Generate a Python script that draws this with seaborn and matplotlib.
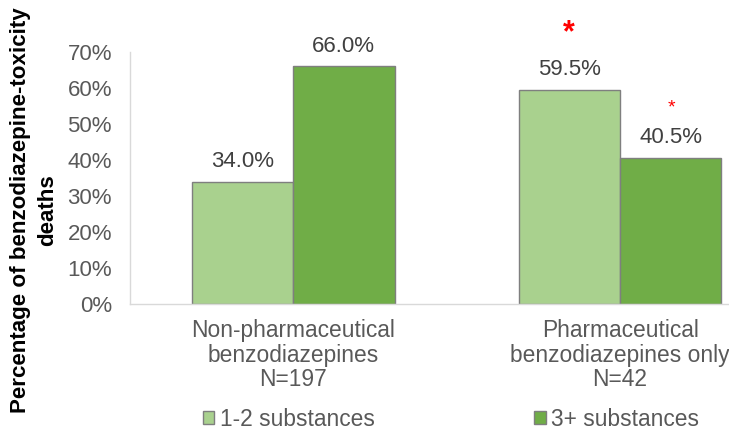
import matplotlib
matplotlib.use("Agg")
import matplotlib.pyplot as plt
import seaborn as sns
import pandas as pd
from matplotlib.ticker import PercentFormatter

groups = ["Non-pharmaceutical\nbenzodiazepines\nN=197", "Pharmaceutical\nbenzodiazepines only\nN=42"]
series = ["1-2 substances", "3+ substances"]
light_vals = [34.0, 59.5]
dark_vals = [66.0, 40.5]
colors = ["#A9D18E", "#70AD47"]

df = pd.DataFrame({
    "group": groups * 2,
    "series": [series[0]] * 2 + [series[1]] * 2,
    "pct": light_vals + dark_vals,
})

sns.set_style("white")
plt.rcParams["font.family"] = ["Liberation Sans", "DejaVu Sans"]

fig = plt.figure(figsize=(7.29, 4.32), dpi=100)
ax = fig.add_axes([130 / 729, 1 - 304 / 432, 599 / 729, 252 / 432])

sns.barplot(data=df, x="group", y="pct", hue="series", palette=colors,
            saturation=1, width=0.62, edgecolor="#7F7F7F", linewidth=1,
            ax=ax, legend=True)

for cont in ax.containers:
    ax.bar_label(cont, fmt="%.1f%%", padding=7, fontsize=16, color="#404040")

# significance markers
ax.text(0.844, 75.3, "*", color="red", fontsize=22, ha="center", va="center",
        fontweight="bold", clip_on=False)
ax.text(1.156, 54.5, "*", color="red", fontsize=14, ha="center", va="center")

ax.set_ylim(0, 70)
ax.set_xlim(-0.499, 1.333)
ax.set_yticks(range(0, 71, 10))
ax.yaxis.set_major_formatter(PercentFormatter(decimals=0))
ax.tick_params(axis="y", labelsize=16, labelcolor="#595959", length=0, pad=13)
ax.tick_params(axis="x", labelsize=16.4, labelcolor="#595959", length=0, pad=11)
for lbl in ax.get_xticklabels():
    lbl.set_linespacing(1.08)
ax.set_xlabel("")
ax.set_ylabel("Percentage of benzodiazepine-toxicity\ndeaths", fontsize=16.1,
              fontweight="bold", color="black", linespacing=1.4)
ax.yaxis.set_label_coords(-0.12, 0.373)

for s in ["top", "right"]:
    ax.spines[s].set_visible(False)
for s in ["bottom", "left"]:
    ax.spines[s].set_color("#D9D9D9")
    ax.spines[s].set_linewidth(1)

handles, labels = ax.get_legend_handles_labels()
ax.get_legend().remove()
fig.legend(handles, labels, loc="center", bbox_to_anchor=(0.619, 0.030), ncol=2,
           frameon=False, fontsize=16.4, labelcolor="#595959", handlelength=0.5,
           handleheight=0.5, handletextpad=0.25, columnspacing=7.0)

fig.savefig("out.png", dpi=100)
